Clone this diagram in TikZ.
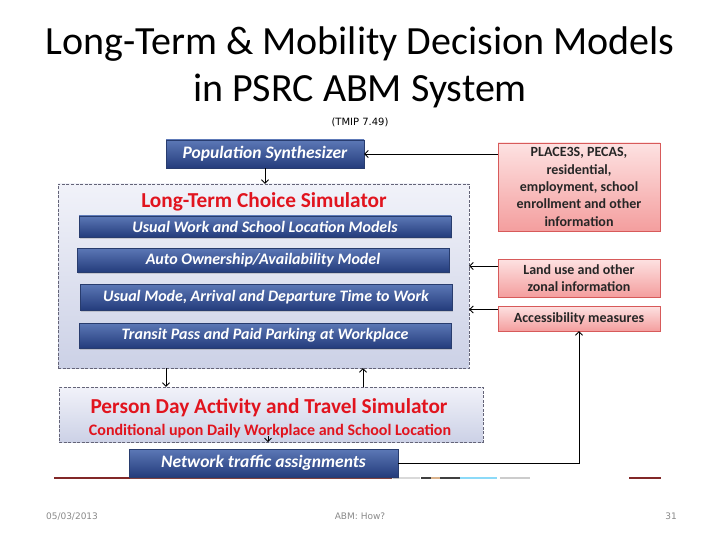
\documentclass[tikz,border=0pt]{standalone}
\usepackage{fontspec}
\setmainfont{Carlito}
\newfontfamily\smallfont{DejaVu Sans}
\usetikzlibrary{positioning}
\usetikzlibrary{shadows}
\usetikzlibrary{arrows.meta}

\definecolor{barline}{RGB}{40,60,110}
\definecolor{bartop}{RGB}{92,120,182}
\definecolor{barbot}{RGB}{36,60,124}
\definecolor{simline}{RGB}{100,100,120}
\definecolor{simtop}{RGB}{241,242,249}
\definecolor{simbot}{RGB}{204,209,230}
\definecolor{infoline}{RGB}{215,90,90}
\definecolor{infotop}{RGB}{253,226,226}
\definecolor{infobot}{RGB}{244,158,158}
\definecolor{simred}{RGB}{225,20,30}
\definecolor{footred}{RGB}{130,40,40}
\definecolor{footgray}{RGB}{137,137,137}

\begin{document}
\begin{tikzpicture}[x=1pt, y=-1pt, line width=0.9pt, >={Straight Barb[length=3.5pt,width=7pt]},
    bar/.style = {draw=barline, thin, top color=bartop, bottom color=barbot, text=white, inner sep=0pt, font=\bfseries\itshape\fontsize{16}{18}\selectfont, drop shadow={opacity=0.3, shadow xshift=1pt, shadow yshift=-1.5pt}},
    sim/.style = {draw=simline, thin, dash pattern=on 3pt off 1.5pt, top color=simtop, bottom color=simbot},
    info/.style = {draw=infoline, thin, top color=infotop, bottom color=infobot, align=center, inner sep=0pt, text=black!85, font=\bfseries\fontsize{14}{17.3}\selectfont},
    redtitle/.style = {text=simred, font=\bfseries\fontsize{21.3}{23}\selectfont},
    footer/.style = {text=footgray, anchor=base, font=\smallfont\fontsize{9}{11}\selectfont}]
    \useasboundingbox (0,0) rectangle (720,540);
    % title
    \node[font=\fontsize{40}{44}\selectfont] (title1) at (360,44) {Long-Term \& Mobility Decision Models};
    \node[font=\fontsize{40}{44}\selectfont] (title2) at (360,91) {in PSRC ABM System};
    \node[font=\smallfont\fontsize{10}{12}\selectfont] (tmip) at (360,122) {(TMIP 7.49)};
    % footer line
    \draw[footred, line width=2pt] (54,478) -- (392,478);
    \foreach \a/\b/\c in {393/420/gray!30, 421/431/darkgray, 431/440/brown!60, 440/460/darkgray, 460/497/cyan!45, 500/530/gray!40}
        \draw[\c, line width=2pt] (\a,478) -- (\b,478);
    \draw[footred, line width=2pt] (629,478) -- (661,478);
    % left column
    \node[bar, minimum width=198pt, minimum height=28pt, font=\bfseries\itshape\fontsize{17.5}{19}\selectfont] (popsyn) at (265,154) {Population Synthesizer};
    \node[sim, minimum width=411pt, minimum height=184pt] (ltcs) at (263.5,276) {};
    \node[redtitle] (ltcstitle) at (264,202) {Long-Term Choice Simulator};
    \node[bar, minimum width=372pt, minimum height=21pt] (work) at (265,226.5) {Usual Work and School Location Models};
    \node[bar, minimum width=372pt, minimum height=24pt] (auto) at (263,260) {Auto Ownership/Availability Model};
    \node[bar, minimum width=372pt, minimum height=26pt] (mode) at (266,297) {Usual Mode, Arrival and Departure Time to Work};
    \node[bar, minimum width=372pt, minimum height=25pt] (pass) at (265,335.5) {Transit Pass and Paid Parking at Workplace};
    \node[sim, minimum width=424pt, minimum height=55pt] (pd) at (271,414.5) {};
    \node[redtitle] (pdtitle) at (269,408) {Person Day Activity and Travel Simulator};
    \node[text=simred, font=\bfseries\fontsize{16}{18}\selectfont] (pdsub) at (270,431) {Conditional upon Daily Workplace and School Location};
    \node[bar, minimum width=269pt, minimum height=28pt, font=\bfseries\itshape\fontsize{17.5}{19}\selectfont] (net) at (263.5,463) {Network traffic assignments};
    % right column
    \node[info, minimum width=162pt, minimum height=88pt] (place) at (579,187) {PLACE3S, PECAS,\\ residential,\\ employment, school\\ enrollment and other\\ information};
    \node[info, minimum width=162pt, minimum height=38pt] (land) at (579,278) {Land use and other\\ zonal information};
    \node[info, minimum width=162pt, minimum height=25pt] (acc) at (579,318.5) {Accessibility measures};
    % connectors
    \coordinate (placein) at ([yshift=33pt]place.west);
    \coordinate (landin) at ([yshift=12pt]land.west);
    \coordinate (accin) at ([yshift=9pt]acc.west);
    \coordinate (dnx) at (166,0);
    \coordinate (upx) at (363,0);
    \draw[->] (placein) -- (placein -| popsyn.east);
    \draw[->] (landin) -- (landin -| ltcs.east);
    \draw[->] (accin) -- (accin -| ltcs.east);
    \draw[->] (popsyn.south) -- (popsyn.south |- ltcs.north);
    \draw[->] (dnx |- ltcs.south) -- (dnx |- pd.north);
    \draw[->] (upx |- pd.north) -- (upx |- ltcs.south);
    \draw[->] ([xshift=-3pt,yshift=6pt]pd.south) -- ([xshift=-3pt]pd.south);
    \draw[->] (net.east) -| (acc.south);
    % footer
    \node[footer] (date) at (72,519) {05/03/2013};
    \node[footer] (topic) at (360,519) {ABM: How?};
    \node[footer] (page) at (671,519) {31};
\end{tikzpicture}
\end{document}
